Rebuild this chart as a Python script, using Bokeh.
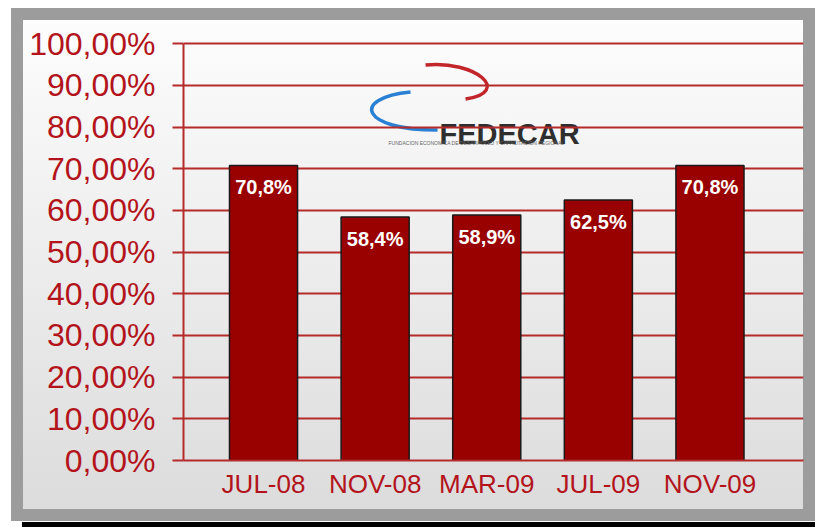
from bokeh.plotting import figure
from bokeh.models import FixedTicker, Range1d
from bokeh.core.properties import value
from bokeh.embed import file_html
from bokeh.resources import INLINE

# ---- data ----
categories = ["JUL-08", "NOV-08", "MAR-09", "JUL-09", "NOV-09"]
values = [70.8, 58.4, 58.9, 62.5, 70.8]
y_ticks = [0, 10, 20, 30, 40, 50, 60, 70, 80, 90, 100]
y_tick_labels = ["0,00%", "10,00%", "20,00%", "30,00%", "40,00%", "50,00%",
                 "60,00%", "70,00%", "80,00%", "90,00%", "100,00%"]
bar_labels = [f"{v:.1f}%".replace(".", ",") for v in values]
positions = list(range(len(categories)))

RED = "#b3141c"
GRID = "#b52a2a"

W, H = 815, 527
p = figure(width=W, height=H, x_range=Range1d(-0.717, 4.838), y_range=Range1d(0, 101),
           output_backend="svg", toolbar_location=None,
           min_border_left=183, min_border_right=12, min_border_top=39, min_border_bottom=67,
           border_fill_alpha=0, background_fill_alpha=0, outline_line_color=None)

# ---- frame decoration via CSS background layers ----
p.styles = {
    "background": (
        "linear-gradient(#fdfdfd, #dcdcdc) 23px 20px / 780px 489px no-repeat, "
        "linear-gradient(#9c9c9c, #9c9c9c) 11px 8px / 804px 513px no-repeat, "
        "linear-gradient(#000000, #000000) 22px 522px / 793px 5px no-repeat, "
        "#ffffff"
    )
}

# ---- logo (decoration) ----
def dx(px):
    return (px - 183) / 111.6 - 0.717

def dy(py):
    return (460 - py) / 4.163

p.bezier(x0=[dx(425)], y0=[dy(65)], x1=[dx(465)], y1=[dy(99)],
         cx0=[dx(475)], cy0=[dy(60)], cx1=[dx(512)], cy1=[dy(92)],
         line_color="#c2262b", line_width=3.5, level="image")
p.bezier(x0=[dx(410)], y0=[dy(92)], x1=[dx(437)], y1=[dy(130)],
         cx0=[dx(350)], cy0=[dy(98)], cx1=[dx(360)], cy1=[dy(130)],
         line_color="#2a80d2", line_width=3.5, level="image")
p.text(x=[dx(509)], y=[dy(134)], text=["FEDECAR"], text_font=value("Liberation Sans"),
       text_font_style="bold", text_font_size="29px", text_color="#2e2e2e",
       text_align="center", text_baseline="alphabetic", level="image")
p.text(x=[dx(476)], y=[dy(143)], text=["FUNDACION ECONOMICA DE DESARROLLO Y CAPACITACION REGIONAL"],
       text_font=value("Liberation Sans"), text_font_size="5px", text_color="#666666",
       text_align="center", text_baseline="middle", level="image")

# ---- bars ----
p.vbar(x=positions, top=values, width=0.61, fill_color="#990000", line_color="#1a1a1a",
       line_width=1.5)
p.text(x=positions, y=values, text=bar_labels, text_font=value("Liberation Sans"),
       text_font_style="bold", text_font_size="20px", text_color="white",
       text_align="center", text_baseline="middle", y_offset=22)

# ---- axes & grid ----
p.xgrid.visible = False
p.ygrid.ticker = FixedTicker(ticks=y_ticks)
p.ygrid.grid_line_color = GRID
p.ygrid.grid_line_width = 2

p.yaxis.ticker = FixedTicker(ticks=y_ticks)
p.yaxis.major_label_overrides = {t: l for t, l in zip(y_ticks, y_tick_labels)}
p.yaxis.major_label_text_font = "Liberation Sans"
p.yaxis.major_label_text_font_size = "32px"
p.yaxis.major_label_text_color = RED
p.yaxis.axis_line_color = GRID
p.yaxis.axis_line_width = 2
p.yaxis.major_tick_line_color = GRID
p.yaxis.major_tick_line_width = 2
p.yaxis.major_tick_out = 11
p.yaxis.major_tick_in = 0
p.yaxis.minor_tick_line_color = None
p.yaxis.major_label_standoff = 17
p.yaxis.bounds = (0, 100)

p.xaxis.ticker = FixedTicker(ticks=positions)
p.xaxis.major_label_overrides = {i: c for i, c in zip(positions, categories)}
p.xaxis.major_label_text_font = "Liberation Sans"
p.xaxis.major_label_text_font_size = "26px"
p.xaxis.major_label_text_color = RED
p.xaxis.axis_line_color = GRID
p.xaxis.axis_line_width = 2
p.xaxis.major_tick_line_color = None
p.xaxis.minor_tick_line_color = None
p.xaxis.major_label_standoff = 2

open("out.html", "w").write(file_html(p, INLINE))
